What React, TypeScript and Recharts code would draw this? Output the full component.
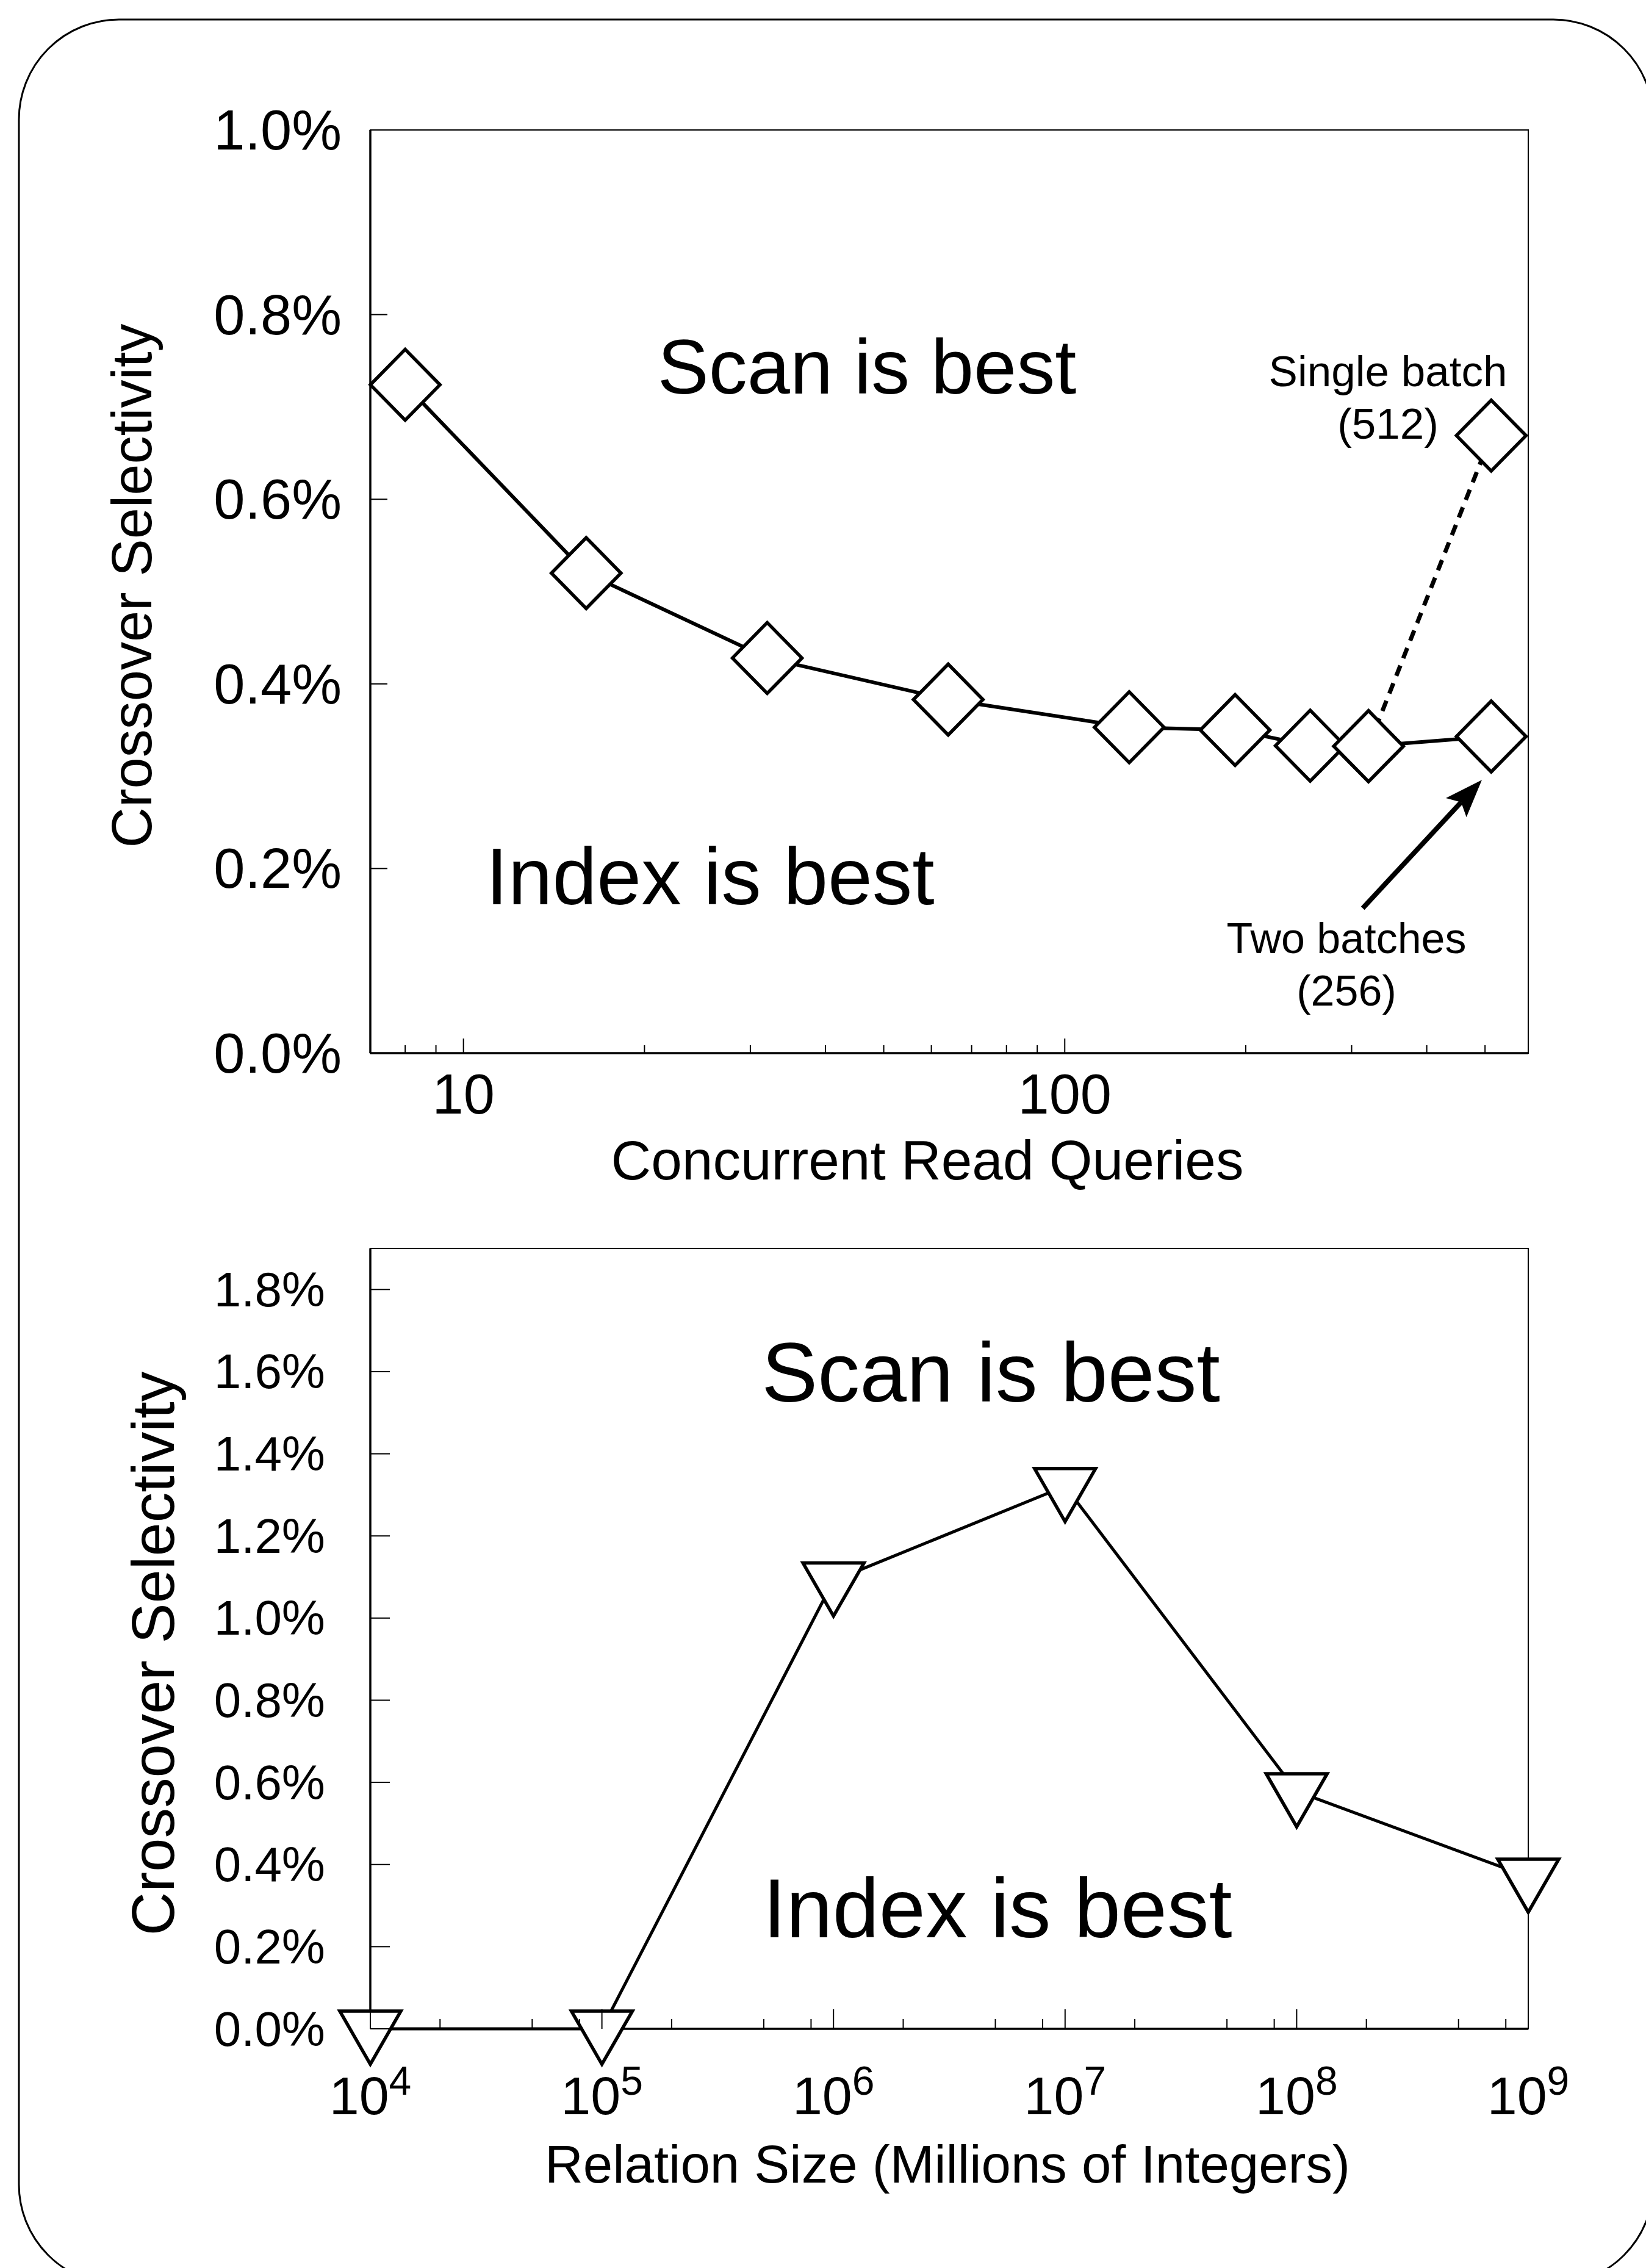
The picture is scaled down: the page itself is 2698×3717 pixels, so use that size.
import React from 'react'
import { LineChart, Line, XAxis, YAxis, ReferenceArea, ReferenceLine } from 'recharts'

const FONT = '"Liberation Sans", Arial, Helvetica, sans-serif'

// top panel: crossover selectivity vs concurrent read queries
const queryCounts = [8, 16, 32, 64, 128, 192, 256, 320, 512]
const twoBatchSel = [0.724, 0.52, 0.428, 0.383, 0.353, 0.35, 0.333, 0.3325, 0.343]
const singleBatchQueries = [320, 512]
const singleBatchSel = [0.3325, 0.669]
const queryTicks = [8, 9, 10, 20, 30, 40, 50, 60, 70, 80, 90, 100, 200, 300, 400, 500]
const queryMajor = [10, 100]
const topSelTicks = [0, 0.2, 0.4, 0.6, 0.8, 1.0]

// bottom panel: crossover selectivity vs relation size
const relationSizes = [1e4, 1e5, 1e6, 1e7, 1e8, 1e9]
const relationSel = [0, 0, 1.091, 1.321, 0.578, 0.37]
const sizeTicks = [
  1e4, 2e4, 5e4, 8e4, 1e5, 2e5, 5e5, 8e5, 1e6, 2e6, 5e6, 8e6,
  1e7, 2e7, 5e7, 8e7, 1e8, 2e8, 5e8, 8e8, 1e9,
]
const sizeMajor = [1e4, 1e5, 1e6, 1e7, 1e8, 1e9]
const bottomSelTicks = [0, 0.2, 0.4, 0.6, 0.8, 1.0, 1.2, 1.4, 1.6, 1.8]

// arrow annotation "Two batches (256)" in data space
const arrowFrom = { x: 313, y: 0.157 }
const arrowTo = { x: 494, y: 0.296 }

const twoBatchData = queryCounts.map((x, i) => ({ x, y: twoBatchSel[i] }))
const singleBatchData = singleBatchQueries.map((x, i) => ({ x, y: singleBatchSel[i] }))
const relationData = relationSizes.map((x, i) => ({ x, y: relationSel[i] }))

const W = 2698
const TOP_H = 1950
const BOT_H = 1767

const renderDiamond = (p: any) => {
  const { cx, cy, index } = p
  if (cx == null || cy == null) return <g key={`d${index}`} />
  return (
    <polygon
      key={`d${index}`}
      points={`${cx},${cy - 58} ${cx + 57},${cy} ${cx},${cy + 58} ${cx - 57},${cy}`}
      fill="#fff"
      stroke="#000"
      strokeWidth={5.5}
    />
  )
}

const renderTriangle = (p: any) => {
  const { cx, cy, index } = p
  if (cx == null || cy == null) return <g key={`t${index}`} />
  return (
    <polygon
      key={`t${index}`}
      points={`${cx - 50},${cy - 29} ${cx + 50},${cy - 29} ${cx},${cy + 58}`}
      fill="#fff"
      stroke="#000"
      strokeWidth={5.5}
    />
  )
}

const renderArrow = (p: any) => {
  const { x1, y1, x2, y2 } = p
  const ang = Math.atan2(y2 - y1, x2 - x1)
  const len = 62
  const half = 23
  const bx = x2 - len * Math.cos(ang)
  const by = y2 - len * Math.sin(ang)
  const nx = -Math.sin(ang)
  const ny = Math.cos(ang)
  const ix = x2 - (len - 12) * Math.cos(ang)
  const iy = y2 - (len - 12) * Math.sin(ang)
  return (
    <g>
      <line x1={x1} y1={y1} x2={ix} y2={iy} stroke="#000" strokeWidth={8} />
      <polygon
        points={`${x2},${y2} ${bx + nx * half},${by + ny * half} ${ix},${iy} ${bx - nx * half},${by - ny * half}`}
        fill="#000"
      />
    </g>
  )
}

const QueryTick = (p: any) => {
  const { x, y, payload } = p
  const v = payload.value
  const major = queryMajor.includes(v)
  return (
    <g>
      <line x1={x} y1={y} x2={x} y2={y - (major ? 24 : 13)} stroke="#000" strokeWidth={2} />
      {major && (
        <text x={x} y={y + 99} textAnchor="middle" fontSize={92} fontFamily={FONT} fill="#000">
          {v}
        </text>
      )}
    </g>
  )
}

const SizeTick = (p: any) => {
  const { x, y, payload } = p
  const v = payload.value
  const major = sizeMajor.includes(v)
  return (
    <g>
      <line x1={x} y1={y} x2={x} y2={y - (major ? 32 : 16)} stroke="#000" strokeWidth={2} />
      {major && (
        <text x={x} y={y + 140} textAnchor="middle" fontSize={88} fontFamily={FONT} fill="#000">
          10
          <tspan fontSize={66} dy={-32}>
            {Math.round(Math.log10(v))}
          </tspan>
        </text>
      )}
    </g>
  )
}

const makeSelTick = (len: number, gap: number, size: number) => (p: any) => {
  const { x, y, payload } = p
  return (
    <g>
      <line x1={x} y1={y} x2={x + len} y2={y} stroke="#000" strokeWidth={2} />
      <text
        x={x - gap}
        y={y}
        textAnchor="end"
        dominantBaseline="central"
        fontSize={size}
        fontFamily={FONT}
        fill="#000"
      >
        {`${payload.value.toFixed(1)}%`}
      </text>
    </g>
  )
}

const TopSelTick = makeSelTick(28, 47, 92)
const BottomSelTick = makeSelTick(32, 74, 80)

const axisStroke = { stroke: '#000', strokeWidth: 3.5 }

export default function App() {
  return (
    <div
      style={{
        position: 'absolute',
        left: 0,
        top: 0,
        width: W,
        height: 3717,
        background: '#fff',
        overflow: 'hidden',
      }}
    >
      <div style={{ position: 'absolute', left: 0, top: 0 }}>
        <LineChart width={W} height={TOP_H} margin={{ top: 213, right: 193, bottom: TOP_H - 1726 - 60, left: 0 }}>
          <XAxis
            type="number"
            dataKey="x"
            scale="log"
            domain={[7, 590]}
            ticks={queryTicks}
            interval={0}
            height={60}
            tickSize={0}
            tickMargin={0}
            tickLine={false}
            axisLine={axisStroke}
            tick={QueryTick}
          />
          <YAxis
            type="number"
            domain={[0, 1.0]}
            ticks={topSelTicks}
            interval={0}
            width={607}
            tickSize={0}
            tickMargin={0}
            tickLine={false}
            axisLine={axisStroke}
            tick={TopSelTick}
          />
          <ReferenceArea x1={7} x2={590} y1={0} y2={1.0} fill="none" stroke="#000" strokeWidth={2} />
          <ReferenceLine segment={[arrowFrom, arrowTo]} shape={renderArrow} />
          <Line
            data={singleBatchData}
            dataKey="y"
            type="linear"
            stroke="#000"
            strokeWidth={7}
            strokeDasharray="18 13"
            dot={renderDiamond}
            activeDot={false}
            isAnimationActive={false}
          />
          <Line
            data={twoBatchData}
            dataKey="y"
            type="linear"
            stroke="#000"
            strokeWidth={6}
            dot={renderDiamond}
            activeDot={false}
            isAnimationActive={false}
          />
        </LineChart>
      </div>

      <div style={{ position: 'absolute', left: 0, top: TOP_H }}>
        <LineChart width={W} height={BOT_H} margin={{ top: 96, right: 193, bottom: BOT_H - 1375 - 60, left: 0 }}>
          <XAxis
            type="number"
            dataKey="x"
            scale="log"
            domain={[1e4, 1e9]}
            ticks={sizeTicks}
            interval={0}
            height={60}
            tickSize={0}
            tickMargin={0}
            tickLine={false}
            axisLine={axisStroke}
            tick={SizeTick}
          />
          <YAxis
            type="number"
            domain={[0, 1.9]}
            ticks={bottomSelTicks}
            interval={0}
            width={607}
            tickSize={0}
            tickMargin={0}
            tickLine={false}
            axisLine={axisStroke}
            tick={BottomSelTick}
          />
          <ReferenceArea x1={1e4} x2={1e9} y1={0} y2={1.9} fill="none" stroke="#000" strokeWidth={2} />
          <Line
            data={relationData}
            dataKey="y"
            type="linear"
            stroke="#000"
            strokeWidth={5}
            dot={renderTriangle}
            activeDot={false}
            isAnimationActive={false}
          />
        </LineChart>
      </div>

      <svg
        width={W}
        height={3717}
        style={{ position: 'absolute', left: 0, top: 0, pointerEvents: 'none' }}
        fontFamily={FONT}
        fill="#000"
      >
        <rect x={31} y={32} width={2679} height={3712} rx={164} ry={164} fill="none" stroke="#000" strokeWidth={3} />

        {/* top panel */}
        <text x={1421} y={645} textAnchor="middle" fontSize={126}>Scan is best</text>
        <text x={1164} y={1482} textAnchor="middle" fontSize={131}>Index is best</text>
        <text x={2275} y={633} textAnchor="middle" fontSize={71}>Single batch</text>
        <text x={2275} y={719} textAnchor="middle" fontSize={71}>(512)</text>
        <text x={2207} y={1562} textAnchor="middle" fontSize={70}>Two batches</text>
        <text x={2207} y={1648} textAnchor="middle" fontSize={70}>(256)</text>
        <text x={1520} y={1933} textAnchor="middle" fontSize={91}>Concurrent Read Queries</text>
        <text x={248} y={960} textAnchor="middle" fontSize={92} transform="rotate(-90 248 960)">
          Crossover Selectivity
        </text>

        {/* bottom panel */}
        <text x={1624} y={2297} textAnchor="middle" fontSize={138}>Scan is best</text>
        <text x={1635} y={3175} textAnchor="middle" fontSize={137}>Index is best</text>
        <text x={1553} y={3577} textAnchor="middle" fontSize={87}>Relation Size (Millions of Integers)</text>
        <text x={285} y={2710} textAnchor="middle" fontSize={99} transform="rotate(-90 285 2710)">
          Crossover Selectivity
        </text>
      </svg>
    </div>
  )
}
